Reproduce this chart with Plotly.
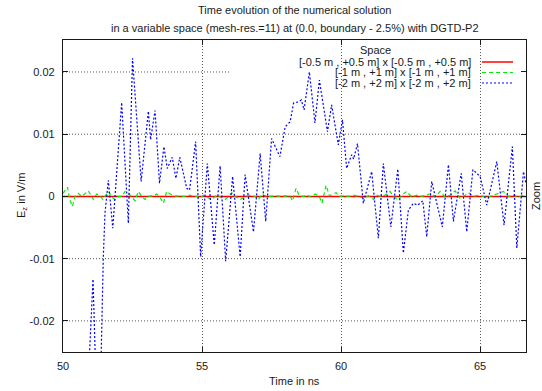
import plotly.graph_objects as go

# ---------------- data ----------------
x_ticks = [50, 55, 60, 65]
y_ticks = [-0.02, -0.01, 0, 0.01, 0.02]
y_tick_text = ["-0.02", "-0.01", "0", "0.01", "0.02"]

series_names = [
    "[-0.5 m , +0.5 m] x [-0.5 m , +0.5 m]",
    "[-1 m , +1 m] x [-1 m , +1 m]",
    "[-2 m , +2 m] x [-2 m , +2 m]",
]

t_red = [50.0, 52.0, 54.0, 56.0, 58.0, 60.0, 62.0, 64.0, 66.0, 66.65]
v_red = [0.0, 0.0, 0.0, 0.0, 0.0, 0.0, 0.0, 0.0, 0.0, 0.0]

t_green = [50.0, 50.07, 50.16, 50.25, 50.34, 50.43, 50.55, 50.67, 50.79, 50.91,
           51.03, 51.09, 51.21, 51.33, 51.43, 51.51, 51.63, 51.75, 51.87, 51.99,
           52.11, 52.23, 52.35, 52.47, 52.59, 52.71, 52.83, 52.95, 53.07, 53.25,
           53.37, 53.47, 53.61, 53.73, 53.85, 54.03, 54.21, 54.39, 54.57, 54.69,
           54.81, 54.93, 55.05, 55.17, 55.35, 55.53, 55.65, 55.83, 55.95, 56.07,
           56.19, 56.37, 56.55, 56.73, 56.91, 57.03, 57.15, 57.27, 57.45, 57.63,
           57.81, 57.99, 58.17, 58.26, 58.38, 58.5, 58.65, 58.79, 58.91, 59.07,
           59.22, 59.31, 59.46, 59.58, 59.73, 59.82, 59.94, 60.09, 60.27, 60.45,
           60.63, 60.81, 60.99, 61.17, 61.29, 61.41, 61.58, 61.76, 61.88, 62.06,
           62.18, 62.36, 62.54, 62.72, 62.9, 63.08, 63.26, 63.38, 63.56, 63.74,
           63.92, 64.1, 64.28, 64.46, 64.58, 64.76, 64.94, 65.12, 65.3, 65.48,
           65.66, 65.84, 66.02, 66.2, 66.38, 66.56, 66.65]
v_green = [0.0005, 0.0009, 0.0015, -0.0006, -0.0016, 0.0, 0.0005, 0.0, 0.0005, 0.0009,
           0.0, -0.0005, 0.0004, 0.0001, -0.0005, 0.0, 0.0008, -0.0001, -0.0005, 0.0,
           0.0, 0.0008, 0.0005, -0.0001, -0.0007, 0.0008, 0.0, -0.0005, 0.0, 0.0001,
           0.0004, 0.0, -0.0011, 0.0008, 0.0004, 0.0001, 0.0001, 0.0, 0.0002, 0.0,
           0.0, -0.0003, 0.0002, -0.0001, -0.0005, 0.0002, -0.0001, -0.0005, 0.0, 0.0006,
           0.0, -0.0005, 0.0, 0.0002, 0.0, -0.0005, 0.0004, 0.0001, 0.0, 0.0001,
           0.0, 0.0001, 0.0, -0.0007, 0.0013, 0.0001, 0.0, 0.0002, -0.0001, 0.0004,
           0.0, -0.0011, 0.0018, 0.0001, 0.0004, 0.0006, 0.0, 0.0001, 0.0, 0.0002,
           0.0, -0.0003, 0.0001, -0.0005, 0.0002, 0.0, 0.0002, 0.0008, 0.0, -0.0006,
           0.0002, 0.0008, -0.0001, 0.0002, 0.0, 0.0002, 0.0005, -0.0001, 0.0008, -0.0001,
           0.0002, 0.0009, -0.0003, 0.0002, 0.0006, 0.0, 0.0002, 0.0, -0.0001, 0.0002,
           0.0005, 0.0008, 0.0, 0.0002, -0.0001, 0.0002, 0.0]

t_blue = [50.85, 51.08, 51.22, 51.36, 51.45, 51.51, 51.63, 51.79, 52.11, 52.35,
          52.5, 52.81, 53.07, 53.15, 53.31, 53.47, 53.63, 53.75, 53.93, 54.06,
          54.2, 54.45, 54.55, 54.77, 54.95, 55.19, 55.44, 55.65, 55.85, 56.1,
          56.37, 56.55, 56.85, 57.09, 57.29, 57.5, 57.8, 57.99, 58.17, 58.29,
          58.47, 58.57, 58.67, 58.86, 59.06, 59.22, 59.51, 59.66, 59.9, 60.05,
          60.2, 60.38, 60.45, 60.59, 60.8, 61.1, 61.34, 61.52, 61.79, 62.04,
          62.24, 62.42, 62.6, 62.75, 62.94, 63.08, 63.26, 63.64, 63.86, 64.04,
          64.32, 64.52, 64.74, 65.0, 65.24, 65.6, 65.86, 66.16, 66.32, 66.56,
          66.65]
v_blue = [-0.035, -0.0133, -0.035, -0.028, -0.0097, -0.0027, 0.0026, -0.0051, 0.0151, -0.0043,
          0.0222, 0.0024, 0.0137, 0.0091, 0.0138, 0.0021, 0.008, 0.0045, 0.0063, 0.0029,
          0.0063, 0.0013, 0.0010, 0.0088, -0.0097, 0.0053, -0.0078, 0.0049, -0.0104, 0.0032,
          -0.0097, 0.0035, -0.0057, 0.0069, -0.004, 0.0093, 0.0064, 0.0112, 0.012, 0.015,
          0.0152, 0.0155, 0.0139, 0.02, 0.0118, 0.0187, 0.0104, 0.0147, 0.0083, 0.0123,
          0.0045, 0.0067, 0.006, 0.0085, -0.0011, 0.004, -0.0067, 0.0053, -0.0049, 0.0044,
          -0.0091, -0.0022, -0.0011, -0.0014, -0.0007, -0.0065, 0.0024, -0.0049, 0.0051, -0.004,
          0.0037, -0.0057, 0.0043, 0.0032, -0.0014, 0.0056, -0.0046, 0.008, -0.0083, 0.004,
          0.002]

# ---------------- figure ----------------
FONT = "Liberation Sans, Arial, Helvetica, sans-serif"
L, R, T, B = 63, 16, 40, 39
W, H = 542, 391
PW, PH = W - L - R, H - T - B

def px_x(px):
    return (px - L) / PW

def px_y(py):
    return (H - B - py) / PH

colors = ["#ff0000", "#00ee00", "#0000ff"]
dashes = ["solid", "4px,3px", "2px,2px"]
widths = [1.5, 1.2, 1.2]

fig = go.Figure()
for t, v, c, d, w, n in zip([t_red, t_green, t_blue], [v_red, v_green, v_blue],
                            colors, dashes, widths, series_names):
    fig.add_trace(go.Scatter(x=t, y=v, mode="lines", name=n,
                             line=dict(color=c, dash=d, width=w),
                             showlegend=False, hoverinfo="skip"))

shapes = []
# horizontal dotted grid lines (0.02 line stops where the key begins)
for yv in y_ticks:
    if yv == 0:
        continue
    x1 = 56.04 if yv == 0.02 else 66.65
    shapes.append(dict(type="line", xref="x", yref="y", x0=50, x1=x1, y0=yv, y1=yv,
                       line=dict(color="#555555", width=1, dash="1px,2px"), layer="below"))

# key line samples
row_y = [62, 72.5, 83]
for c, d, w, ry in zip(colors, dashes, widths, row_y):
    shapes.append(dict(type="line", xref="paper", yref="paper",
                       x0=px_x(482), x1=px_x(513), y0=px_y(ry), y1=px_y(ry),
                       line=dict(color=c, dash=d, width=w)))

annotations = [
    dict(text="Time evolution of the numerical solution", xref="paper", yref="paper",
         x=0.5, y=px_y(10), xanchor="center", yanchor="middle", showarrow=False),
    dict(text="in a variable space (mesh-res.=11) at (0.0, boundary - 2.5%) with DGTD-P2",
         xref="paper", yref="paper", x=0.5, y=px_y(28.5), xanchor="center",
         yanchor="middle", showarrow=False),
    dict(text="Time in ns", xref="paper", yref="paper", x=0.5, y=px_y(381),
         xanchor="center", yanchor="middle", showarrow=False),
    dict(text="E<sub>z</sub> in V/m", xref="paper", yref="paper", x=px_x(22), y=0.5,
         xanchor="center", yanchor="middle", textangle=-90, showarrow=False),
    dict(text="Zoom", xref="paper", yref="paper", x=px_x(536), y=0.5,
         xanchor="center", yanchor="middle", textangle=-90, showarrow=False),
    dict(text="Space", xref="paper", yref="paper", x=px_x(375), y=px_y(49.5),
         xanchor="center", yanchor="middle", showarrow=False),
]
for n, ry in zip(series_names, row_y):
    annotations.append(dict(text=n, xref="paper", yref="paper", x=px_x(473), y=px_y(ry),
                            xanchor="right", yanchor="middle", showarrow=False))

axis_common = dict(showline=True, linecolor="#1a1a1a", linewidth=1.3, mirror="ticks",
                   ticks="inside", ticklen=5, tickcolor="#1a1a1a", tickwidth=1,
                   zeroline=False, tickfont=dict(size=11, color="#1a1a1a", family=FONT))

fig.update_layout(
    width=W, height=H, margin=dict(l=L, r=R, t=T, b=B, pad=0),
    paper_bgcolor="white", plot_bgcolor="white",
    font=dict(family=FONT, size=11, color="#1a1a1a"),
    xaxis=dict(range=[50, 66.65], tickvals=x_ticks, ticktext=[str(v) for v in x_ticks],
               showgrid=True, gridcolor="#555555", griddash="1px,2px", gridwidth=1,
               ticklabelstandoff=4, **axis_common),
    yaxis=dict(range=[-0.025, 0.02514], tickvals=y_ticks, ticktext=y_tick_text,
               showgrid=False, ticklabelstandoff=5, **axis_common),
    shapes=shapes, annotations=annotations, showlegend=False,
)

fig.write_html("out.html")
